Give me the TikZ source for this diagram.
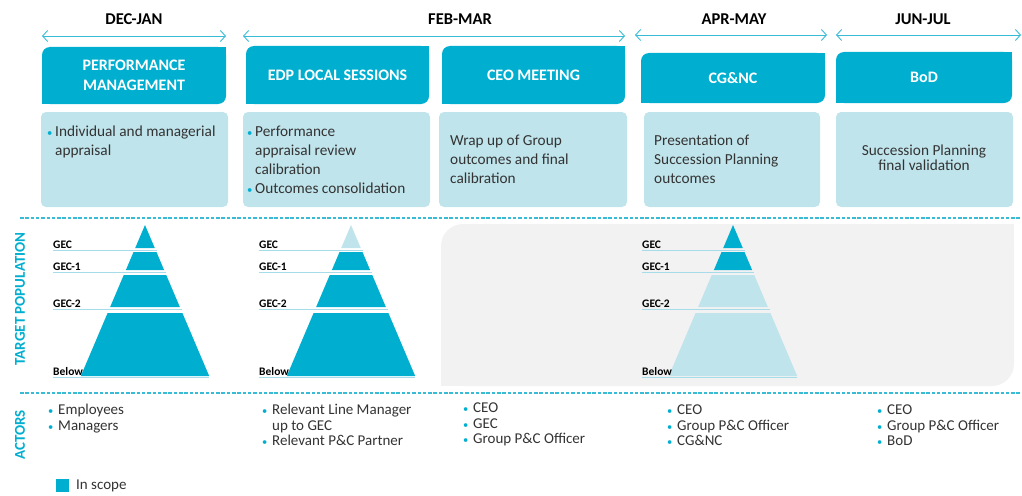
\documentclass[tikz,border=0pt]{standalone}
\usepackage{fontspec}
\setmainfont{Carlito}
\usetikzlibrary{arrows.meta}
\definecolor{hdr}{HTML}{00AFD0}
\definecolor{lightbox}{HTML}{C0E4EC}
\definecolor{dashc}{HTML}{38BCD6}
\definecolor{grayreg}{HTML}{F2F2F2}
\definecolor{txt}{HTML}{333333}
\definecolor{lvl}{HTML}{A6DCE9}
\newcommand\bul{\makebox[8pt][l]{\textcolor{hdr}{\scalebox{0.7}{\textbullet}}}}
\newcommand\abul{\makebox[10pt][l]{\textcolor{hdr}{\scalebox{0.7}{\textbullet}}}}
% pyramid: #1 prefix, #2 apex x, #3 label x, #4..#7 colours GEC,GEC-1,GEC-2,Below
\newcommand\drawpyr[7]{%
  \pgfmathsetmacro\ax{#2}%
  \fill[#4] (\ax,225) -- (\ax+0.425*23,248) -- (\ax-0.425*23,248) -- cycle;
  \fill[#5] (\ax-0.425*27,252) -- (\ax+0.425*27,252) -- (\ax+0.425*45,270) -- (\ax-0.425*45,270) -- cycle;
  \fill[#6] (\ax-0.425*50,275) -- (\ax+0.425*50,275) -- (\ax+0.425*82,307) -- (\ax-0.425*82,307) -- cycle;
  \fill[#7] (\ax-0.425*88,313) -- (\ax+0.425*88,313) -- (\ax+0.425*151,376) -- (\ax-0.425*151,376) -- cycle;
  \draw[lvlline] (#3,250) -- (\ax+0.425*25+1,250);
  \draw[lvlline] (#3,272) -- (\ax+0.425*47+1,272);
  \draw[lvlline] (#3,309) -- (\ax+0.425*84+1,309);
  \draw[lvlline] (#3,377.5) -- (\ax+0.425*151,377.5);
  \node[plabel] (#1gec) at (#3,248) {GEC};
  \node[plabel] (#1gecone) at (#3,270.5) {GEC-1};
  \node[plabel] (#1gectwo) at (#3,307.5) {GEC-2};
  \node[plabel] (#1below) at (#3,375) {Below};
}
\begin{document}
\begin{tikzpicture}[x=1pt,y=-1pt,
  hdrbox/.style={fill=hdr,rounded corners=8pt,text=white,font=\fontsize{16}{20.5}\selectfont\bfseries,align=center,inner sep=0pt},
  bodybox/.style={fill=lightbox,rounded corners=5pt},
  bodytext/.style={anchor=north west,inner sep=0pt,align=left,text=txt,font=\fontsize{15.3}{19}\selectfont},
  actortext/.style={anchor=north west,inner sep=0pt,align=left,text=txt,font=\fontsize{15}{15.5}\selectfont},
  datelabel/.style={font=\fontsize{16.5}{18}\selectfont\bfseries,text=black,inner sep=0pt},
  datearrow/.style={draw=dashc,line width=0.9pt,{Straight Barb[length=5pt,width=11pt]}-{Straight Barb[length=5pt,width=11pt]}},
  sep/.style={draw=dashc,line width=1.3pt,dash pattern=on 3.5pt off 1.8pt},
  lvlline/.style={draw=lvl,line width=0.9pt},
  plabel/.style={anchor=base west,inner sep=0pt,font=\fontsize{11.5}{12}\selectfont\bfseries,text=black},
  sidelabel/.style={rotate=90,font=\fontsize{15}{18}\selectfont\bfseries,text=hdr,inner sep=0pt}
]
\useasboundingbox (0,0) rectangle (1022,495);

% date labels and arrows
\node[datelabel] (dj) at (134,19) {DEC-JAN};
\node[datelabel] (fm) at (460,19) {FEB-MAR};
\node[datelabel] (am) at (734,19) {APR-MAY};
\node[datelabel] (jj) at (923,19) {JUN-JUL};
\coordinate (dja) at (42,36); \coordinate (djb) at (226,36);
\coordinate (fma) at (243,36); \coordinate (fmb) at (625,36);
\coordinate (ama) at (635,35); \coordinate (amb) at (827,35);
\coordinate (jja) at (836,35); \coordinate (jjb) at (1021,35);
\draw[datearrow] (dja) -- (djb);
\draw[datearrow] (fma) -- (fmb);
\draw[datearrow] (ama) -- (amb);
\draw[datearrow] (jja) -- (jjb);

% header boxes
\node[hdrbox,minimum width=184pt,minimum height=57pt] (hpm) at (134,75.5) {PERFORMANCE\\MANAGEMENT};
\node[hdrbox,minimum width=183pt,minimum height=58pt] (hedp) at (337.5,75) {EDP LOCAL SESSIONS};
\node[hdrbox,minimum width=183pt,minimum height=58pt] (hceo) at (533.5,75) {CEO MEETING};
\node[hdrbox,minimum width=184pt,minimum height=50pt] (hcg) at (733,78) {CG\&NC};
\node[hdrbox,minimum width=176pt,minimum height=51pt] (hbod) at (924,77.5) {BoD};
\foreach \n in {hpm,hedp,hceo,hcg,hbod}{
  \fill[hdr] (\n.north east) rectangle ++(-10,10);
  \fill[hdr] (\n.south west) rectangle ++(10,-10);
}

% body boxes
\fill[bodybox] (41,112) rectangle (228,207);
\fill[bodybox] (243,112) rectangle (430,207);
\fill[bodybox] (439,112) rectangle (627,207);
\fill[bodybox] (644,112) rectangle (820,207);
\fill[bodybox] (836,112) rectangle (1013,207);
\node[bodytext] (b1) at (47,126) {\bul Individual and managerial\\\hspace*{8pt}appraisal};
\node[bodytext] (b2) at (247,126) {\bul Performance\\\hspace*{8pt}appraisal review\\\hspace*{8pt}calibration\\\bul Outcomes consolidation};
\node[bodytext] (b3) at (450,135) {Wrap up of Group\\outcomes and final\\calibration};
\node[bodytext] (b4) at (654,135) {Presentation of\\Succession Planning\\outcomes};
\node[bodytext,anchor=north,align=center,font=\fontsize{15.3}{15}\selectfont] (b5) at (924,145) {Succession Planning\\final validation};

% separators
\coordinate (s1a) at (20,218); \coordinate (s1b) at (1022,218);
\coordinate (s2a) at (20,393); \coordinate (s2b) at (1022,393);
\draw[sep] (s1a) -- (s1b);
\draw[sep] (s2a) -- (s2b);

% gray region
\fill[grayreg,rounded corners=22pt] (441,224) rectangle (1014,386);
\fill[grayreg] (1014,224) rectangle (990,250);
\fill[grayreg] (441,386) rectangle (465,360);

% side labels
\node[sidelabel] (tp) at (20,299) {TARGET POPULATION};
\node[sidelabel] (act) at (20,435) {ACTORS};

% pyramids
\drawpyr{pa}{145}{53}{hdr}{hdr}{hdr}{hdr}
\drawpyr{pb}{351}{259}{lightbox}{hdr}{hdr}{hdr}
\drawpyr{pc}{733}{642}{hdr}{hdr}{lightbox}{lightbox}

% actors
\node[actortext] (a1) at (48,404) {\abul Employees\\\abul Managers};
\node[actortext] (a2) at (262,404) {\abul Relevant Line Manager\\\hspace*{10pt}up to GEC\\\abul Relevant P\&C Partner};
\node[actortext] (a3) at (463,403) {\abul CEO\\\abul GEC\\\abul Group P\&C Officer};
\node[actortext] (a4) at (667,405) {\abul CEO\\\abul Group P\&C Officer\\\abul CG\&NC};
\node[actortext] (a5) at (877,405) {\abul CEO\\\abul Group P\&C Officer\\\abul BoD};

% legend
\fill[hdr] (56,479) rectangle (69,492);
\node[anchor=west,inner sep=0pt,text=txt,font=\fontsize{15}{16}\selectfont] (leg) at (76,486) {In scope};
\end{tikzpicture}
\end{document}
